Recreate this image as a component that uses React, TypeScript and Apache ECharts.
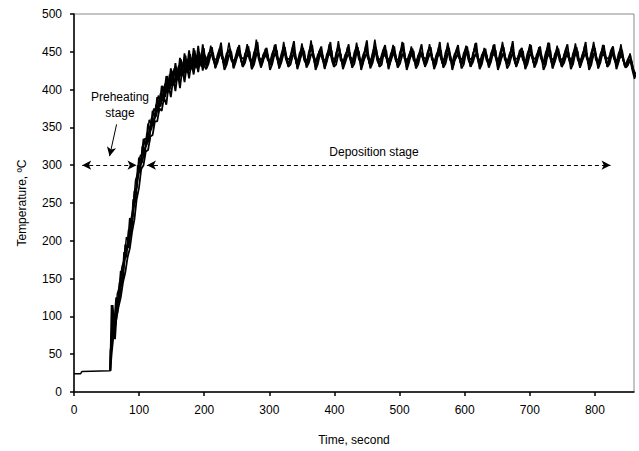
import React, { useEffect, useRef } from "react";
import * as echarts from "echarts";

// Flat start (before heating): [time s, temperature °C]
const startSegment: [number, number][] = [
  [0, 24], [10, 24], [12, 27], [55.7, 28],
];

// Sampled traces every 3.5 s; traces A–C start at 56 s, D–E at 57.75 s
const sampleStep = 3.5;
const startABC = 56;
const startDE = 57.75;

const traceA: number[] = [
  45, 115, 80, 130, 140, 165, 175, 205, 200, 228, 245, 280, 290, 312, 315, 335, 335, 360, 355, 375,
  370, 392, 385, 405, 393, 418, 402, 425, 408, 430, 415, 440, 418, 445, 422, 447, 426, 452, 428, 450,
  430, 455,
  430, 441, 458, 444, 428, 439, 452, 442, 432, 445, 462, 446, 429, 440, 455, 443, 431, 444, 460, 445,
  427, 443, 466, 447, 430, 440, 454, 441, 433, 444, 459, 445, 428, 442, 463, 446, 431, 441, 457, 443,
  429, 443, 461, 444, 432, 446, 465, 447, 430, 439, 453, 441, 427, 442, 460, 445, 431, 445, 464, 446,
  429, 441, 456, 443, 433, 444, 462, 445, 428, 440, 458, 444, 430, 446, 466, 447, 432, 441, 455, 442,
  429, 443, 459, 445, 431, 445, 463, 446, 428, 441, 457, 443, 430, 439, 452, 441, 433, 444, 460, 445,
  429, 441, 456, 443, 431, 445, 462, 446, 428, 440, 454, 442, 432, 443, 458, 444, 430, 444, 461, 445,
  429, 441, 455, 442, 431, 443, 459, 444, 428, 445, 463, 446, 432, 441, 457, 443, 430, 439, 452, 441,
  429, 443, 460, 445, 431, 441, 456, 443, 433, 445, 462, 446, 428, 442, 458, 444, 430, 440, 454, 442,
  432, 444, 461, 445, 429, 441, 457, 443, 431, 446, 463, 446, 428, 442, 459, 444, 430, 440, 455, 442,
  432, 444, 460, 440, 429, 436, 448, 430, 418,
];

const traceB: number[] = [
  40, 95, 70, 118, 125, 150, 168, 190, 192, 215, 238, 262, 282, 300, 305, 322, 328, 345, 348, 362,
  365, 380, 378, 395, 390, 408, 400, 415, 405, 422, 412, 428, 418, 433, 422, 438, 427, 442, 430, 445,
  432, 448,
  435, 447, 452, 440, 433, 446, 455, 441, 436, 448, 451, 439, 434, 445, 456, 442, 432, 447, 453, 440,
  435, 449, 457, 441, 433, 446, 450, 439, 436, 448, 454, 442, 434, 447, 456, 440, 432, 445, 452, 441,
  435, 448, 455, 439, 433, 449, 458, 442, 436, 446, 451, 440, 434, 447, 454, 441, 432, 448, 457, 439,
  435, 446, 452, 442, 433, 449, 456, 440, 436, 447, 453, 441, 434, 448, 458, 439, 432, 446, 451, 442,
  435, 447, 455, 440, 433, 449, 457, 441, 436, 446, 452, 439, 434, 445, 450, 442, 432, 448, 456, 440,
  435, 446, 453, 441, 433, 449, 457, 439, 436, 447, 451, 442, 434, 448, 455, 440, 432, 447, 456, 441,
  435, 446, 452, 439, 433, 448, 455, 442, 436, 449, 458, 440, 434, 446, 453, 441, 432, 445, 450, 439,
  435, 448, 456, 442, 433, 446, 452, 440, 436, 449, 457, 441, 434, 447, 454, 439, 432, 446, 451, 442,
  435, 448, 456, 440, 433, 446, 453, 441, 436, 449, 458, 439, 434, 447, 455, 442, 432, 445, 451, 440,
  435, 448, 455, 438, 433, 440, 446, 428, 422,
];

const traceC: number[] = [
  55, 75, 100, 105, 145, 140, 185, 178, 215, 205, 255, 250, 300, 290, 325, 312, 342, 330, 362, 352,
  380, 370, 395, 385, 408, 395, 420, 405, 428, 412, 432, 418, 437, 422, 440, 425, 443, 428, 446, 430,
  448, 432,
  427, 434, 446, 449, 429, 436, 448, 445, 426, 433, 445, 450, 428, 437, 449, 447, 430, 435, 447, 451,
  427, 433, 446, 448, 429, 438, 450, 446, 426, 434, 447, 452, 428, 436, 448, 447, 430, 433, 445, 449,
  427, 437, 449, 451, 429, 435, 446, 448, 426, 434, 448, 446, 428, 438, 450, 452, 430, 433, 447, 447,
  427, 436, 445, 449, 429, 434, 449, 451, 426, 437, 446, 448, 428, 435, 448, 446, 430, 433, 450, 452,
  427, 438, 447, 447, 429, 434, 445, 449, 426, 436, 449, 451, 428, 433, 446, 448, 430, 437, 448, 446,
  427, 435, 450, 452, 429, 434, 447, 447, 426, 438, 445, 449, 428, 433, 449, 451, 430, 436, 446, 448,
  427, 434, 448, 446, 429, 437, 450, 452, 426, 435, 447, 447, 428, 433, 445, 449, 430, 438, 449, 451,
  427, 434, 446, 448, 429, 436, 448, 446, 426, 433, 450, 452, 428, 437, 447, 447, 430, 435, 445, 449,
  427, 434, 449, 451, 429, 438, 446, 448, 426, 433, 448, 446, 428, 436, 450, 450, 430, 434, 447, 447,
  427, 437, 449, 442, 429, 432, 440, 426, 414,
];

const traceD: number[] = [
  115, 85, 125, 120, 160, 150, 195, 190, 230, 220, 265, 270, 310, 305, 335, 325, 355, 345, 372, 362,
  390, 378, 405, 392, 418, 402, 428, 410, 435, 415, 442, 420, 448, 425, 452, 428, 455, 430, 458, 432,
  460, 433,
  433, 449, 456, 437, 435, 447, 462, 436, 432, 450, 454, 438, 434, 448, 459, 436, 436, 451, 457, 437,
  433, 447, 463, 435, 435, 449, 455, 438, 432, 450, 460, 436, 434, 448, 456, 437, 436, 451, 464, 435,
  433, 447, 455, 438, 435, 449, 459, 436, 432, 450, 457, 437, 434, 448, 463, 435, 436, 451, 454, 438,
  433, 447, 460, 436, 435, 449, 456, 437, 432, 450, 465, 435, 434, 448, 455, 438, 436, 451, 459, 436,
  433, 447, 457, 437, 435, 449, 462, 435, 432, 450, 454, 438, 434, 448, 460, 436, 436, 451, 456, 437,
  433, 447, 463, 435, 435, 449, 455, 438, 432, 450, 459, 436, 434, 448, 457, 437, 436, 451, 462, 435,
  433, 447, 454, 438, 435, 449, 460, 436, 432, 450, 456, 437, 434, 448, 464, 435, 436, 451, 455, 438,
  433, 447, 459, 436, 435, 449, 457, 437, 432, 450, 462, 435, 434, 448, 454, 438, 436, 451, 460, 436,
  433, 447, 456, 437, 435, 449, 463, 435, 432, 450, 455, 438, 434, 448, 459, 436, 436, 451, 457, 437,
  433, 446, 452, 432, 430, 438, 440, 425, 416,
];

const traceE: number[] = [
  50, 80, 95, 112, 125, 145, 158, 178, 190, 212, 228, 255, 270, 295, 300, 318, 320, 338, 340, 358,
  358, 375, 372, 390, 380, 405, 390, 415, 398, 422, 402, 428, 410, 432, 415, 436, 420, 440, 423, 443,
  425, 445,
  438, 444, 447, 440, 440, 442, 449, 441, 437, 445, 446, 439, 439, 443, 448, 442, 441, 444, 445, 440,
  438, 446, 449, 441, 440, 442, 447, 439, 437, 444, 446, 442, 439, 445, 448, 440, 441, 443, 447, 441,
  438, 444, 449, 439, 440, 446, 446, 442, 437, 442, 448, 440, 439, 445, 447, 441, 441, 443, 449, 439,
  438, 444, 446, 442, 440, 446, 448, 440, 437, 442, 447, 441, 439, 445, 449, 439, 441, 443, 446, 442,
  438, 444, 448, 440, 440, 446, 447, 441, 437, 442, 449, 439, 439, 445, 446, 442, 441, 443, 448, 440,
  438, 444, 447, 441, 440, 446, 449, 439, 437, 442, 446, 442, 439, 445, 448, 440, 441, 443, 447, 441,
  438, 444, 449, 439, 440, 446, 446, 442, 437, 442, 448, 440, 439, 445, 447, 441, 441, 443, 449, 439,
  438, 444, 446, 442, 440, 446, 448, 440, 437, 442, 447, 441, 439, 445, 449, 439, 441, 443, 446, 442,
  438, 444, 448, 440, 440, 446, 447, 441, 437, 442, 449, 439, 439, 445, 446, 442, 441, 443, 448, 440,
  438, 442, 444, 434, 434, 436, 438, 426, 420,
];

const xRange = { min: 0, max: 860, interval: 100 };
const xTickValues = [0, 100, 200, 300, 400, 500, 600, 700, 800];
const yRange = { min: 0, max: 500, interval: 50 };

// Annotation positions in data coordinates [time, temperature]
const preheatArrow: [number, number][] = [[12.6, 300], [96, 300]];
const depositionArrow: [number, number][] = [[112, 300], [824, 300]];
const pointerArrow: [number, number][] = [[65.4, 354], [54.6, 312]];

function toPairs(values: number[], start: number, withPrefix: boolean): [number, number][] {
  const prefix = withPrefix ? startSegment : startSegment.slice(-1);
  const pts: [number, number][] = prefix.map((p) => [p[0], p[1]] as [number, number]);
  values.forEach((v, i) => pts.push([start + i * sampleStep, v]));
  return pts;
}

export default function App() {
  const ref = useRef<HTMLDivElement>(null);
  useEffect(() => {
    if (!ref.current) return;
    const chart = echarts.init(ref.current, undefined, { renderer: "svg" });
    const font = "Liberation Sans, Arial, sans-serif";
    const lineStyle = { color: "#000", width: 1.8 };
    const baseSeries = {
      type: "line" as const,
      showSymbol: false,
      symbol: "none",
      lineStyle,
      silent: true,
      clip: true,
    };
    chart.setOption({
      animation: false,
      backgroundColor: "#fff",
      grid: {
        left: 74,
        right: 5,
        top: 14,
        bottom: 57,
        show: true,
        borderColor: "#8a8a8a",
        borderWidth: 1,
        containLabel: false,
      },
      xAxis: {
        type: "value",
        ...xRange,
        name: "Time, second",
        nameLocation: "middle",
        nameGap: 42,
        nameTextStyle: { color: "#000", fontSize: 12, fontFamily: font },
        axisLine: { show: true, lineStyle: { color: "#000", width: 1.5 } },
        axisTick: {
          show: true,
          length: 4,
          customValues: xTickValues,
          lineStyle: { color: "#000", width: 1.5 },
        },
        axisLabel: {
          color: "#000",
          fontSize: 12,
          fontFamily: font,
          margin: 12,
          customValues: xTickValues,
        },
        splitLine: { show: false },
      },
      yAxis: {
        type: "value",
        ...yRange,
        name: "Temperature, ºC",
        nameLocation: "middle",
        nameGap: 46,
        nameTextStyle: { color: "#000", fontSize: 12, fontFamily: font },
        axisLine: { show: true, lineStyle: { color: "#000", width: 1.5 } },
        axisTick: { show: true, length: 4, lineStyle: { color: "#000", width: 1.5 } },
        axisLabel: { color: "#000", fontSize: 12, fontFamily: font, margin: 12 },
        splitLine: { show: false },
      },
      series: [
        {
          ...baseSeries,
          lineStyle: { color: "#000", width: 1.5 },
          data: toPairs(traceA, startABC, true),
          markLine: {
            silent: true,
            symbol: ["arrow", "arrow"],
            symbolSize: [7, 9],
            label: { show: false },
            lineStyle: { color: "#000", type: [4, 3], width: 1 },
            data: [
              [{ coord: preheatArrow[0] }, { coord: preheatArrow[1] }],
              [{ coord: depositionArrow[0] }, { coord: depositionArrow[1] }],
            ],
          },
        },
        {
          ...baseSeries,
          data: toPairs(traceB, startABC, false),
          markLine: {
            silent: true,
            symbol: ["none", "arrow"],
            symbolSize: [7, 9],
            label: { show: false },
            lineStyle: { color: "#000", type: "solid", width: 1 },
            data: [[{ coord: pointerArrow[0] }, { coord: pointerArrow[1] }]],
          },
        },
        { ...baseSeries, data: toPairs(traceC, startABC, false) },
        { ...baseSeries, data: toPairs(traceD, startDE, false) },
        { ...baseSeries, data: toPairs(traceE, startDE, false) },
      ],
      graphic: [
        {
          type: "text",
          x: 120,
          y: 97,
          style: {
            text: "Preheating",
            fill: "#000",
            font: `12px ${font}`,
            align: "center",
            verticalAlign: "middle",
          },
        },
        {
          type: "text",
          x: 120,
          y: 113,
          style: {
            text: "stage",
            fill: "#000",
            font: `12px ${font}`,
            align: "center",
            verticalAlign: "middle",
          },
        },
        {
          type: "text",
          x: 374,
          y: 152,
          style: {
            text: "Deposition stage",
            fill: "#000",
            font: `12px ${font}`,
            align: "center",
            verticalAlign: "middle",
          },
        },
      ],
    });
    return () => chart.dispose();
  }, []);
  return (
    <div
      ref={ref}
      style={{ position: "fixed", left: 0, top: 0, width: 639, height: 451, background: "#fff" }}
    />
  );
}
